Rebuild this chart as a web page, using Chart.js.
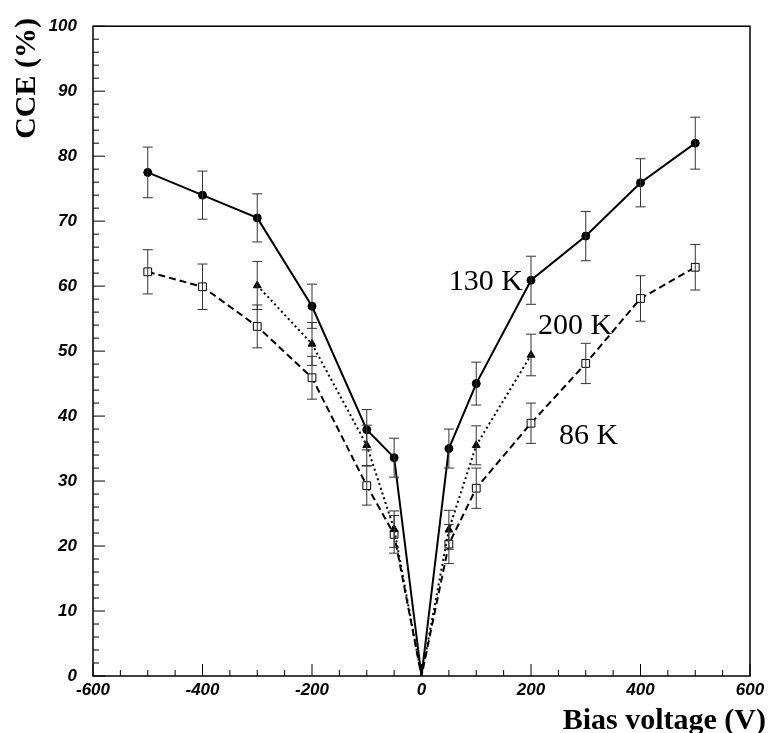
<!DOCTYPE html>
<html>
<head>
<meta charset="utf-8">
<script src="https://cdn.jsdelivr.net/npm/chart.js@4.4.1/dist/chart.umd.min.js"></script>
<style>
  html, body { margin: 0; padding: 0; background: #fff; }
  #wrap { width: 769px; height: 733px; }
</style>
</head>
<body>
<div id="wrap"><canvas id="cce"></canvas></div>
<script>
// bias voltages (V)
const volts130 = [-500, -400, -300, -200, -100, -50, 0, 50, 100, 200, 300, 400, 500];
const cce130   = [77.5, 74.0, 70.5, 56.9, 37.9, 33.6, 0, 35.0, 45.0, 60.9, 67.7, 75.9, 82.0];
const err130   = [3.9, 3.7, 3.7, 3.4, 3.1, 3.0, 0, 3.0, 3.3, 3.7, 3.8, 3.7, 4.0];

const volts200 = [-300, -200, -100, -50, 0, 50, 100, 200];
const cce200   = [60.1, 51.1, 35.5, 22.6, 0, 22.5, 35.5, 49.4];
const err200   = [3.7, 3.3, 3.1, 2.8, 0, 3.0, 3.0, 3.2];

const volts86 = [-500, -400, -300, -200, -100, -50, 0, 50, 100, 200, 300, 400, 500];
const cce86   = [62.2, 59.9, 53.8, 45.9, 29.3, 21.8, 0, 20.3, 28.9, 38.9, 48.1, 58.1, 62.9];
const err86   = [3.4, 3.5, 3.3, 3.3, 3.0, 2.9, 0, 3.0, 3.1, 3.1, 3.1, 3.5, 3.5];

const xTicks = [-600, -400, -200, 0, 200, 400, 600];
const yTicks = [0, 10, 20, 30, 40, 50, 60, 70, 80, 90, 100];

// curve labels: [text, voltage, cce]
const curveLabels = [
  ['130 K', 200, 60.9],
  ['200 K', 200, 49.4],
  ['86 K', 200, 38.9]
];

function toPoints(xs, ys, es) {
  return xs.map((x, i) => ({ x: x, y: ys[i], err: es[i] }));
}

function radiusFor(r) {
  return (ctx) => (ctx.raw && ctx.raw.x === 0 ? 0 : r);
}

const errorBars = {
  id: 'errorBars',
  afterDatasetsDraw(chart) {
    const ctx = chart.ctx;
    const xs = chart.scales.x, ys = chart.scales.y;
    ctx.save();
    ctx.strokeStyle = '#333';
    ctx.lineWidth = 1;
    chart.data.datasets.forEach((ds) => {
      ds.data.forEach((p) => {
        if (!p.err) return;
        const px = xs.getPixelForValue(p.x);
        const top = ys.getPixelForValue(p.y + p.err);
        const bot = ys.getPixelForValue(p.y - p.err);
        ctx.beginPath();
        ctx.moveTo(px, top); ctx.lineTo(px, bot);
        ctx.moveTo(px - 5, top); ctx.lineTo(px + 5, top);
        ctx.moveTo(px - 5, bot); ctx.lineTo(px + 5, bot);
        ctx.stroke();
      });
    });
    ctx.restore();
  }
};

const frameAndText = {
  id: 'frameAndText',
  afterDraw(chart) {
    const ctx = chart.ctx;
    const a = chart.chartArea;
    const xs = chart.scales.x, ys = chart.scales.y;
    ctx.save();
    ctx.strokeStyle = '#000';
    ctx.lineWidth = 1.5;
    ctx.strokeRect(a.left, a.top, a.right - a.left, a.bottom - a.top);

    // inward ticks
    ctx.lineWidth = 1;
    for (let v = -600; v <= 600; v += 50) {
      const px = xs.getPixelForValue(v);
      const len = v % 200 === 0 ? 12 : 6;
      ctx.beginPath(); ctx.moveTo(px, a.bottom); ctx.lineTo(px, a.bottom - len); ctx.stroke();
    }
    for (let v = 0; v <= 100; v += 2) {
      const py = ys.getPixelForValue(v);
      const len = v % 10 === 0 ? 12 : 6;
      ctx.beginPath(); ctx.moveTo(a.left, py); ctx.lineTo(a.left + len, py); ctx.stroke();
    }

    // axis titles
    ctx.fillStyle = '#000';
    ctx.font = 'bold 30px "Liberation Serif", "Times New Roman", serif';
    ctx.textAlign = 'right';
    ctx.textBaseline = 'alphabetic';
    ctx.fillText('Bias voltage (V)', 766, 729);
    ctx.save();
    ctx.translate(35, 18);
    ctx.rotate(-Math.PI / 2);
    ctx.textAlign = 'right';
    ctx.fillText('CCE (%)', 0, 0);
    ctx.restore();

    // curve labels
    ctx.font = '30px "Liberation Serif", "Times New Roman", serif';
    const offs = [[-8, 10, 'right'], [7, -21, 'left'], [28, 21, 'left']];
    curveLabels.forEach((l, i) => {
      const px = xs.getPixelForValue(l[1]);
      const py = ys.getPixelForValue(l[2]);
      ctx.textAlign = offs[i][2];
      ctx.fillText(l[0], px + offs[i][0], py + offs[i][1]);
    });
    ctx.restore();
  }
};

const tickFont = { family: '"Liberation Sans", Arial, sans-serif', size: 17, weight: 'bold', style: 'italic' };

new Chart(document.getElementById('cce'), {
  type: 'line',
  data: {
    datasets: [
      {
        label: '130 K',
        data: toPoints(volts130, cce130, err130),
        borderColor: '#000',
        backgroundColor: '#000',
        borderWidth: 2,
        pointStyle: 'circle',
        pointRadius: radiusFor(4),
        pointBackgroundColor: '#000',
        pointBorderWidth: 1
      },
      {
        label: '200 K',
        data: toPoints(volts200, cce200, err200),
        borderColor: '#000',
        backgroundColor: '#000',
        borderWidth: 2,
        borderDash: [2, 3],
        pointStyle: 'triangle',
        pointRadius: radiusFor(4.5),
        pointBackgroundColor: '#000',
        pointBorderWidth: 1
      },
      {
        label: '86 K',
        data: toPoints(volts86, cce86, err86),
        borderColor: '#000',
        backgroundColor: '#fff',
        borderWidth: 2,
        borderDash: [7, 4],
        pointStyle: 'rect',
        pointRadius: radiusFor(5.5),
        pointBackgroundColor: '#fff',
        pointBorderWidth: 1
      }
    ]
  },
  options: {
    responsive: true,
    maintainAspectRatio: false,
    animation: false,
    layout: { padding: { top: 17, right: 19, left: 0, bottom: 0 } },
    plugins: { legend: { display: false }, tooltip: { enabled: false } },
    scales: {
      x: {
        type: 'linear',
        min: -600,
        max: 600,
        afterFit(s) { s.height = 57; },
        afterBuildTicks(s) { s.ticks = xTicks.map(v => ({ value: v })); },
        grid: { display: false, drawTicks: false },
        border: { display: false },
        ticks: { color: '#000', font: tickFont, padding: 4, maxRotation: 0 }
      },
      y: {
        type: 'linear',
        min: 0,
        max: 100,
        afterFit(s) { s.width = 93; },
        afterBuildTicks(s) { s.ticks = yTicks.map(v => ({ value: v })); },
        grid: { display: false, drawTicks: false },
        border: { display: false },
        ticks: { color: '#000', font: tickFont, padding: 16 }
      }
    }
  },
  plugins: [errorBars, frameAndText]
});
</script>
</body>
</html>
